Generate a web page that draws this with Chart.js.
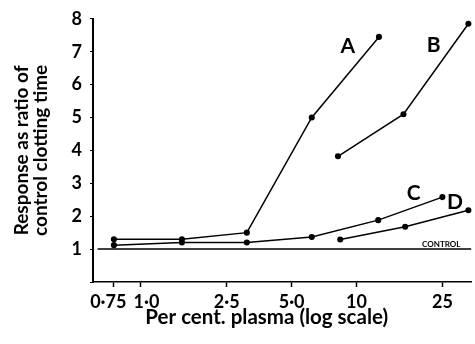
<!DOCTYPE html>
<html>
<head>
<meta charset="utf-8">
<script src="https://cdn.jsdelivr.net/npm/chart.js@4"></script>
<style>
  body { margin: 0; background: #fff; }
  #chart { display: block; }
</style>
</head>
<body>
<canvas id="chart" width="475" height="344"></canvas>
<script>
// x = per cent plasma (log), y = response as ratio of control clotting time
const xTicks = [0.75, 1, 2.5, 5, 10, 25];
// the print sets 0·75 a little left of its tick and 1·0 a little right
const xTickLabels = ["0·75\u2002\u2009", "\u2002\u20091·0", "2·5", "5·0", "10", "25"];
const xMin = 0.63;
const xMax = 34;

const aX = [0.75, 1.55, 3.1, 6.2, 12.7];
const aY = [1.3, 1.3, 1.5, 5.0, 7.45];
const bX = [8.2, 16.5, 33];
const bY = [3.82, 5.1, 7.85];
const cX = [0.75, 1.55, 3.1, 6.2, 12.6, 25];
const cY = [1.12, 1.2, 1.2, 1.37, 1.88, 2.58];
const dX = [8.4, 16.8, 33];
const dY = [1.29, 1.68, 2.18];
const controlX = [xMin, xMax];
const controlY = [1, 1];

// curve names, anchored in data units
const curveNames = ["A", "B", "C", "D", "CONTROL"];
const nameX = [9.1, 22.8, 18.4, 28.6, 24.7];
const nameY = [7.18, 7.21, 2.71, 2.43, 1.15];

const FONT = "Lato, 'Open Sans', sans-serif";

function pts(xs, ys) {
  return xs.map((x, i) => ({ x: x, y: ys[i] }));
}

function curve(xs, ys) {
  return {
    data: pts(xs, ys),
    borderColor: "#000",
    backgroundColor: "#000",
    borderWidth: 1.5,
    pointRadius: 2.3,
    pointHoverRadius: 2.3,
    tension: 0,
  };
}

let control = curve(controlX, controlY);
control.pointRadius = 0;

// writes A, B, C, D and CONTROL beside the curves
const namesPlugin = {
  id: "names",
  afterDatasetsDraw(chart) {
    const ctx = chart.ctx;
    const sx = chart.scales.x;
    const sy = chart.scales.y;
    ctx.save();
    ctx.fillStyle = "#000";
    ctx.textAlign = "center";
    ctx.textBaseline = "middle";
    curveNames.forEach((name, i) => {
      ctx.font = name.length > 1 ? "bold 8px " + FONT : "bold 21px " + FONT;
      ctx.fillText(name, sx.getPixelForValue(nameX[i]), sy.getPixelForValue(nameY[i]));
    });
    ctx.restore();
  },
};

new Chart(document.getElementById("chart"), {
  type: "line",
  data: {
    datasets: [curve(aX, aY), curve(bX, bY), curve(cX, cY), curve(dX, dY), control],
  },
  plugins: [namesPlugin],
  options: {
    responsive: false,
    animation: false,
    clip: false,
    layout: { padding: { top: 18, right: 0, left: 0, bottom: 0 } },
    plugins: { legend: { display: false }, tooltip: { enabled: false } },
    scales: {
      x: {
        type: "logarithmic",
        min: xMin,
        max: xMax,
        afterBuildTicks: (scale) => {
          scale.ticks = xTicks.map((v) => ({ value: v }));
        },
        afterFit: (scale) => {
          scale.height = 62;
        },
        border: { display: true, color: "#000", width: 1.5 },
        grid: { drawOnChartArea: false, drawTicks: true, tickLength: 5, tickColor: "#000", tickWidth: 1.5 },
        ticks: {
          color: "#000",
          padding: 4,
          maxRotation: 0,
          autoSkip: false,
          font: { family: FONT, size: 18, weight: "bold" },
          callback: (value) => xTickLabels[xTicks.indexOf(value)],
        },
        title: {
          display: true,
          // trailing em spaces pull the title left, as in the print
          text: "Per cent. plasma (log scale)\u2003\u2003",
          color: "#000",
          padding: { top: 0, bottom: 14 },
          font: { family: FONT, size: 20.5, weight: "bold" },
        },
      },
      y: {
        min: 0,
        max: 8,
        afterFit: (scale) => {
          scale.width = 93;
        },
        border: { display: true, color: "#000", width: 2 },
        grid: { drawOnChartArea: false, drawTicks: true, tickLength: 3, tickColor: "#000", tickWidth: 1 },
        ticks: {
          stepSize: 1,
          color: "#000",
          padding: 8,
          font: { family: FONT, size: 18, weight: "bold" },
          callback: (value) => (value === 0 ? "" : value),
        },
        title: {
          display: true,
          text: ["Response as ratio of", "control clotting time"],
          color: "#000",
          padding: { top: 12, bottom: 0 },
          font: { family: FONT, size: 19, weight: "bold", lineHeight: 1.02 },
        },
      },
    },
  },
});
</script>
</body>
</html>
